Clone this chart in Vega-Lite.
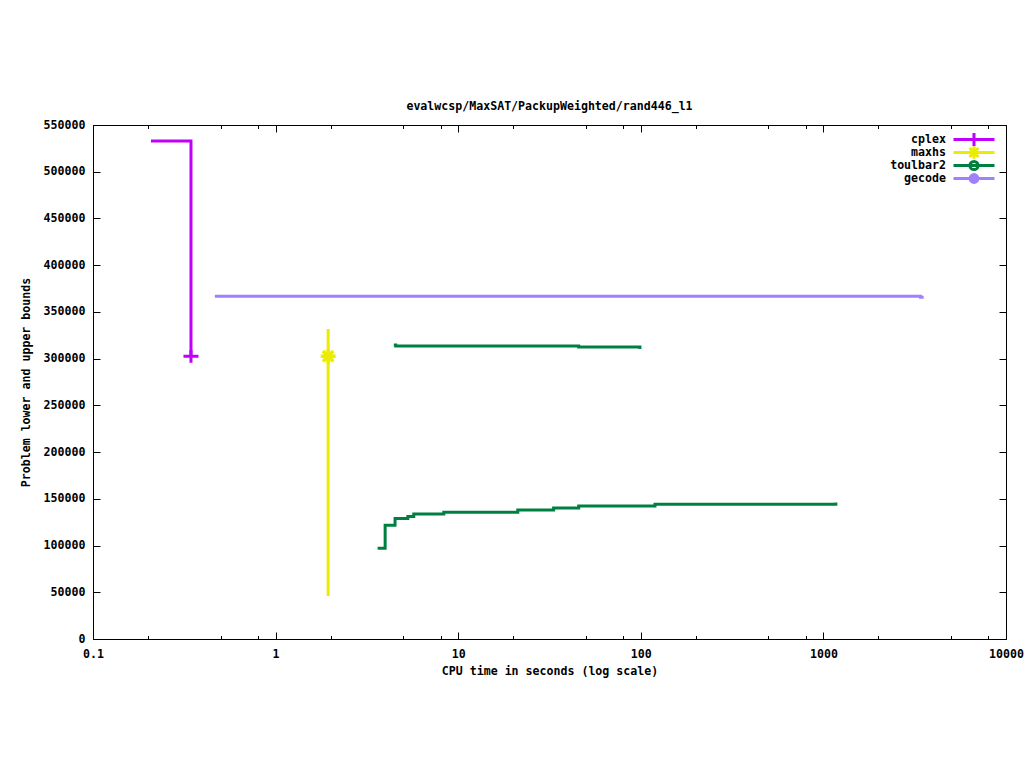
{
  "$schema": "https://vega.github.io/schema/vega-lite/v6.json",
  "width": 913,
  "height": 514,
  "autosize": "none",
  "padding": {"left": 93, "top": 125, "right": 18, "bottom": 129},
  "background": "white",
  "title": {
    "text": "evalwcsp/MaxSAT/PackupWeighted/rand446_l1",
    "font": "DejaVu Sans Mono",
    "fontSize": 11.6,
    "fontWeight": "bold",
    "color": "black",
    "anchor": "middle",
    "offset": 6
  },
  "config": {
    "view": {"stroke": "black", "strokeWidth": 1},
    "axis": {
      "grid": false,
      "domain": false,
      "tickColor": "black",
      "tickWidth": 1,
      "labelFont": "DejaVu Sans Mono",
      "labelFontSize": 11.6,
      "labelFontWeight": "bold",
      "labelColor": "black",
      "titleFont": "DejaVu Sans Mono",
      "titleFontSize": 11.6,
      "titleFontWeight": "bold",
      "titleColor": "black",
      "labelOverlap": false,
      "labelFlush": false
    },
    "legend": {
      "orient": "none",
      "legendX": 859,
      "legendY": 8,
      "padding": 0,
      "rowPadding": 0,
      "clipHeight": 13,
      "labelFont": "DejaVu Sans Mono",
      "labelFontSize": 11.6,
      "labelFontWeight": "bold",
      "labelColor": "black",
      "labelAlign": "right",
      "labelOffset": -50,
      "symbolSize": 1681,
      "symbolStrokeWidth": 3
    }
  },
  "datasets": {
    "lines": [
      {"solver": "cplex", "part": "cplex", "ord": 0, "t": 0.2077, "v": 533000},
      {"solver": "cplex", "part": "cplex", "ord": 1, "t": 0.344, "v": 302500},
      {"solver": "maxhs", "part": "maxhs", "ord": 0, "t": 1.94, "v": 331700},
      {"solver": "maxhs", "part": "maxhs", "ord": 1, "t": 1.94, "v": 46000},
      {"solver": "gecode", "part": "gecode", "ord": 0, "t": 0.465, "v": 366700},
      {"solver": "gecode", "part": "gecode", "ord": 1, "t": 3404, "v": 365700},
      {"solver": "gecode", "part": "gecode", "ord": 2, "t": 3540, "v": 365700},
      {"solver": "toulbar2", "part": "tb2u", "ord": 0, "t": 4.44, "v": 314600},
      {"solver": "toulbar2", "part": "tb2u", "ord": 1, "t": 4.55, "v": 313500},
      {"solver": "toulbar2", "part": "tb2u", "ord": 2, "t": 45.7, "v": 312500},
      {"solver": "toulbar2", "part": "tb2u", "ord": 3, "t": 98.9, "v": 310300},
      {"solver": "toulbar2", "part": "tb2l", "ord": 0, "t": 3.62, "v": 97100},
      {"solver": "toulbar2", "part": "tb2l", "ord": 1, "t": 3.98, "v": 121700},
      {"solver": "toulbar2", "part": "tb2l", "ord": 2, "t": 4.51, "v": 128900},
      {"solver": "toulbar2", "part": "tb2l", "ord": 3, "t": 5.3, "v": 131200},
      {"solver": "toulbar2", "part": "tb2l", "ord": 4, "t": 5.71, "v": 133750},
      {"solver": "toulbar2", "part": "tb2l", "ord": 5, "t": 8.34, "v": 135600},
      {"solver": "toulbar2", "part": "tb2l", "ord": 6, "t": 21.2, "v": 138000},
      {"solver": "toulbar2", "part": "tb2l", "ord": 7, "t": 33.3, "v": 140200},
      {"solver": "toulbar2", "part": "tb2l", "ord": 8, "t": 45.7, "v": 142300},
      {"solver": "toulbar2", "part": "tb2l", "ord": 9, "t": 119.6, "v": 144250},
      {"solver": "toulbar2", "part": "tb2l", "ord": 10, "t": 1170, "v": 146000}
    ],
    "cplexmark": [{"solver": "cplex", "t": 0.344, "v": 302500}],
    "maxhsmark": [{"solver": "maxhs", "t": 1.94, "v": 302500}]
  },
  "layer": [
    {
      "data": {"name": "lines"},
      "mark": {"type": "line", "interpolate": "step-after", "strokeWidth": 3, "strokeCap": "butt", "clip": true},
      "encoding": {
        "x": {
          "field": "t",
          "type": "quantitative",
          "scale": {"type": "log", "domain": [0.1, 10000], "nice": false},
          "axis": {
            "orient": "bottom",
            "values": [0.1, 0.2, 0.5, 0.8, 1, 2, 5, 8, 10, 20, 50, 80, 100, 200, 500, 800, 1000, 2000, 5000, 8000, 10000],
            "labelExpr": "indexof([0.1, 1, 10, 100, 1000, 10000], datum.value) >= 0 ? format(datum.value, '~g') : ''",
            "tickSize": {"condition": {"test": "indexof([0.1, 1, 10, 100, 1000, 10000], datum.value) >= 0", "value": -7}, "value": -3.5},
            "labelPadding": 16,
            "title": "CPU time in seconds (log scale)",
            "titlePadding": 2
          }
        },
        "y": {
          "field": "v",
          "type": "quantitative",
          "scale": {"domain": [0, 550000], "nice": false, "zero": false},
          "axis": {
            "orient": "left",
            "values": [0, 50000, 100000, 150000, 200000, 250000, 300000, 350000, 400000, 450000, 500000, 550000],
            "format": "d",
            "tickSize": -7,
            "labelPadding": 15,
            "title": "Problem lower and upper bounds",
            "titlePadding": 12
          }
        },
        "color": {
          "field": "solver",
          "type": "nominal",
          "scale": {"domain": ["cplex", "maxhs", "toulbar2", "gecode"], "range": ["#c000ff", "#ecec00", "#008040", "#a080ff"]},
          "legend": {
            "title": null,
            "encode": {
              "entries": {
                "update": {
                  "width": {"value": 48},
                  "height": {"value": 13}
                }
              },
              "symbols": {
                "update": {
                  "shape": {"signal": "datum.value === 'cplex' ? 'M-1,0H1M0,-0.32V0.32' : datum.value === 'maxhs' ? 'M-1,0H1M0,-0.3V0.3M-0.22,-0.22L0.22,0.22M-0.22,0.22L0.22,-0.22' : datum.value === 'toulbar2' ? 'M-1,0H1M0.2,0A0.2,0.2 0 1,1 -0.2,0A0.2,0.2 0 1,1 0.2,0' : 'M-1,0H1M0.19,0A0.19,0.19 0 1,1 -0.19,0A0.19,0.19 0 1,1 0.19,0M0.08,0A0.08,0.08 0 1,1 -0.08,0A0.08,0.08 0 1,1 0.08,0'"},
                  "strokeWidth": {"value": 3},
                  "strokeCap": {"value": "butt"},
                  "size": {"value": 1681},
                  "fill": {"value": "transparent"}
                }
              }
            }
          }
        },
        "detail": {"field": "part"},
        "order": {"field": "ord", "type": "quantitative"}
      }
    },
    {
      "data": {"name": "cplexmark"},
      "mark": {"type": "point", "shape": "M-1,0H1M0,-0.85V0.85", "size": 225, "filled": false, "strokeWidth": 3, "color": "#c000ff", "opacity": 1},
      "encoding": {
        "x": {
          "field": "t",
          "type": "quantitative",
          "axis": {
            "orient": "top",
            "values": [0.1, 0.2, 0.5, 0.8, 1, 2, 5, 8, 10, 20, 50, 80, 100, 200, 500, 800, 1000, 2000, 5000, 8000, 10000],
            "labels": false,
            "tickSize": {"condition": {"test": "indexof([0.1, 1, 10, 100, 1000, 10000], datum.value) >= 0", "value": -7}, "value": -3.5},
            "title": null
          }
        },
        "y": {
          "field": "v",
          "type": "quantitative",
          "axis": {
            "orient": "right",
            "values": [0, 50000, 100000, 150000, 200000, 250000, 300000, 350000, 400000, 450000, 500000, 550000],
            "labels": false,
            "tickSize": -7,
            "title": null
          }
        }
      }
    },
    {
      "data": {"name": "maxhsmark"},
      "mark": {"type": "point", "shape": "M-1,0H1M0,-1V1M-0.7,-0.7L0.7,0.7M-0.7,0.7L0.7,-0.7", "size": 225, "filled": false, "strokeWidth": 3.5, "color": "#ecec00", "opacity": 1},
      "encoding": {
        "x": {"field": "t", "type": "quantitative", "axis": null},
        "y": {"field": "v", "type": "quantitative", "axis": null}
      }
    }
  ]
}
